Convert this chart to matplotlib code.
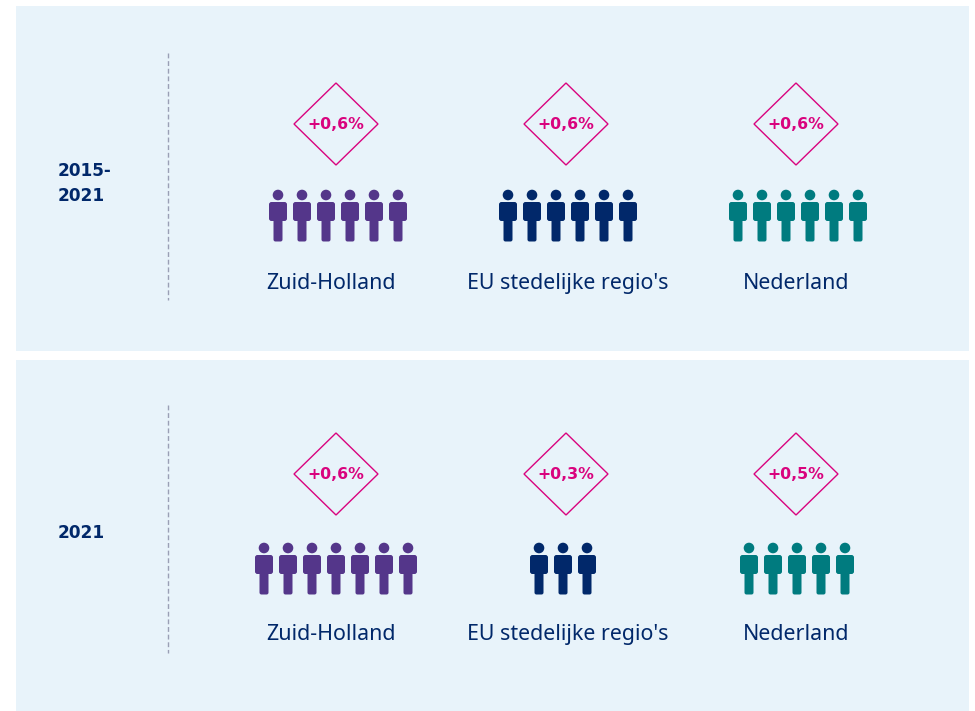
import matplotlib
matplotlib.use("Agg")
import matplotlib.pyplot as plt
from matplotlib.patches import Circle, FancyBboxPatch, Polygon, Rectangle

PERIODS = ["2015-\n2021", "2021"]
REGIONS = ["Zuid-Holland", "EU stedelijke regio's", "Nederland"]
CHANGES = [["+0,6%", "+0,6%", "+0,6%"], ["+0,6%", "+0,3%", "+0,5%"]]
PEOPLE = [[6, 6, 6], [7, 3, 5]]
COLORS = ["#54368a", "#01286a", "#007b7f"]

BG = "#e8f3fa"
NAVY = "#01286a"
PINK = "#d9037e"

# layout in pixels of the 975x711 reference
PANELS = [(6, 351), (360, 711)]
DIVIDERS = [(53, 300), (405, 653)]
YEAR_Y = [201, 538]
DIAMOND_Y = [124, 474]
HEAD_Y = [195, 548]
LABEL_Y = [289, 640]
GROUP_X = [[338, 568, 798], [336, 563, 797]]
DIAMOND_X = [336, 566, 796]
LABEL_X = [331, 567.5, 796.5]
STEP = 24


def person(ax, x, y, color):
    ax.add_patch(Circle((x, y), 5.3, color=color, lw=0))
    ax.add_patch(FancyBboxPatch((x - 9, y + 7), 18, 19,
                                boxstyle="round,pad=0,rounding_size=2.5", lw=0, color=color))
    ax.add_patch(FancyBboxPatch((x - 4.5, y + 20), 9, 26.5,
                                boxstyle="round,pad=0,rounding_size=2", lw=0, color=color))


fig = plt.figure(figsize=(9.75, 7.11), dpi=100)
ax = fig.add_axes([0, 0, 1, 1])
ax.set_xlim(0, 975)
ax.set_ylim(711, 0)
ax.axis("off")

for r, (top, bottom) in enumerate(PANELS):
    ax.add_patch(Rectangle((16, top), 953, bottom - top, color=BG, lw=0))
    ax.plot([167.5, 167.5], DIVIDERS[r], color="#9a9fb5", lw=1.0, ls=(0, (3.5, 2)))
    ax.text(58, YEAR_Y[r], PERIODS[r], color=NAVY, fontsize=12.2, fontweight="bold",
            family="DejaVu Sans", va="baseline", ha="left", linespacing=1.5)
    for c, region in enumerate(REGIONS):
        dx, dy = DIAMOND_X[c], DIAMOND_Y[r]
        ax.add_patch(Polygon([(dx - 42, dy), (dx, dy - 41), (dx + 42, dy), (dx, dy + 41)],
                             closed=True, fill=False, edgecolor=PINK, lw=1.0))
        ax.text(dx, dy + 5, CHANGES[r][c], color=PINK, fontsize=11.3, fontweight="bold",
                family="DejaVu Sans", ha="center", va="baseline")
        n = PEOPLE[r][c]
        for i in range(n):
            person(ax, GROUP_X[r][c] + (i - (n - 1) / 2) * STEP, HEAD_Y[r], COLORS[c])
        ax.text(LABEL_X[c], LABEL_Y[r], region, color=NAVY,
                fontsize=15.4, family="Noto Sans", ha="center", va="baseline")

fig.savefig("out.png", dpi=100)
